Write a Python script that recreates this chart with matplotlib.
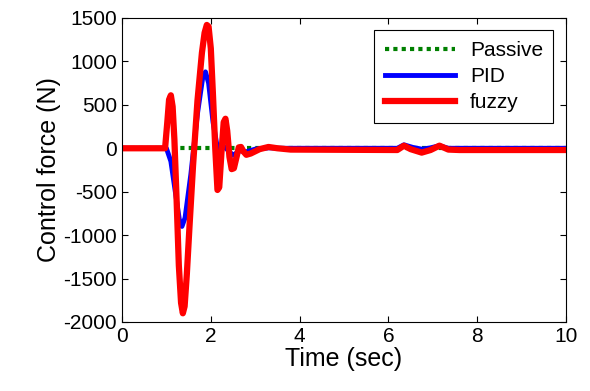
import matplotlib
matplotlib.use("Agg")
import matplotlib.pyplot as plt

plt.rcParams["font.family"] = ["Liberation Sans", "DejaVu Sans"]
plt.rcParams["axes.unicode_minus"] = False

# passive: no control force
t_passive = [0, 10]
f_passive = [0, 0]

# PID control force (N)
t_pid = [0, 1.0, 1.1, 1.2, 1.3, 1.35, 1.42, 1.55, 1.7, 1.82, 1.88, 1.95, 2.05,
         2.15, 2.3, 2.5, 2.65, 2.8, 3.0, 3.3, 3.6, 6.2, 6.35, 6.55, 6.75, 6.95,
         7.15, 7.35, 7.6, 10]
f_pid = [0, 0, -150, -500, -850, -900, -800, -300, 400, 820, 880, 750, 300,
         0, 20, -80, -30, -40, -10, 5, 0, 0, 40, 10, -10, 5, 30, 0, 0, 0]

# fuzzy control force (N)
t_fuzzy = [0, 0.97, 1.02, 1.06, 1.1, 1.14, 1.18, 1.23, 1.28, 1.33, 1.37, 1.41,
           1.46, 1.52, 1.6, 1.7, 1.8, 1.86, 1.91, 1.95, 2.0, 2.05, 2.1, 2.15,
           2.19, 2.24, 2.29, 2.33, 2.37, 2.42, 2.47, 2.52, 2.58, 2.63, 2.68,
           2.74, 2.8, 2.9, 3.1, 3.3, 3.5, 3.8, 6.2, 6.35, 6.5, 6.75, 6.95,
           7.15, 7.35, 7.6, 10]
f_fuzzy = [0, 0, 300, 560, 610, 480, 100, -600, -1350, -1780, -1900, -1820,
           -1450, -900, -200, 550, 1100, 1330, 1420, 1400, 1150, 600, 0, -480,
           -450, -50, 300, 340, 200, -100, -240, -230, -100, 10, 15, -40,
           -75, -60, -10, 15, 0, -15, -20, 30, -10, -50, -20, 30, -15, -20, -20]

fig = plt.figure(figsize=(5.9, 3.91), dpi=100)
ax = fig.add_axes([0.2068, 0.1765, 0.7525, 0.7775])

ax.plot(t_passive, f_passive, color="#008000", lw=3, ls=(0, (1, 1)), label="Passive")
ax.plot(t_pid, f_pid, color="blue", lw=3.5, label="PID")
ax.plot(t_fuzzy, f_fuzzy, color="red", lw=4.5, label="fuzzy")

ax.set_xlim(0, 10)
ax.set_ylim(-2000, 1500)
ax.set_xticks(range(0, 11, 2))
ax.set_yticks(range(-2000, 1501, 500))
ax.tick_params(direction="in", top=True, right=True, labelsize=15, length=4)
ax.set_xlabel("Time (sec)", fontsize=18, labelpad=1)
ax.set_ylabel("Control force (N)", fontsize=18, labelpad=2)

leg = ax.legend(loc="upper right", fontsize=15, fancybox=False, framealpha=1,
                edgecolor="black", handlelength=3.4, borderaxespad=0.6,
                labelspacing=0.35, handletextpad=0.7, borderpad=0.5)
leg.get_frame().set_linewidth(0.8)

fig.savefig("out.png", dpi=100)
